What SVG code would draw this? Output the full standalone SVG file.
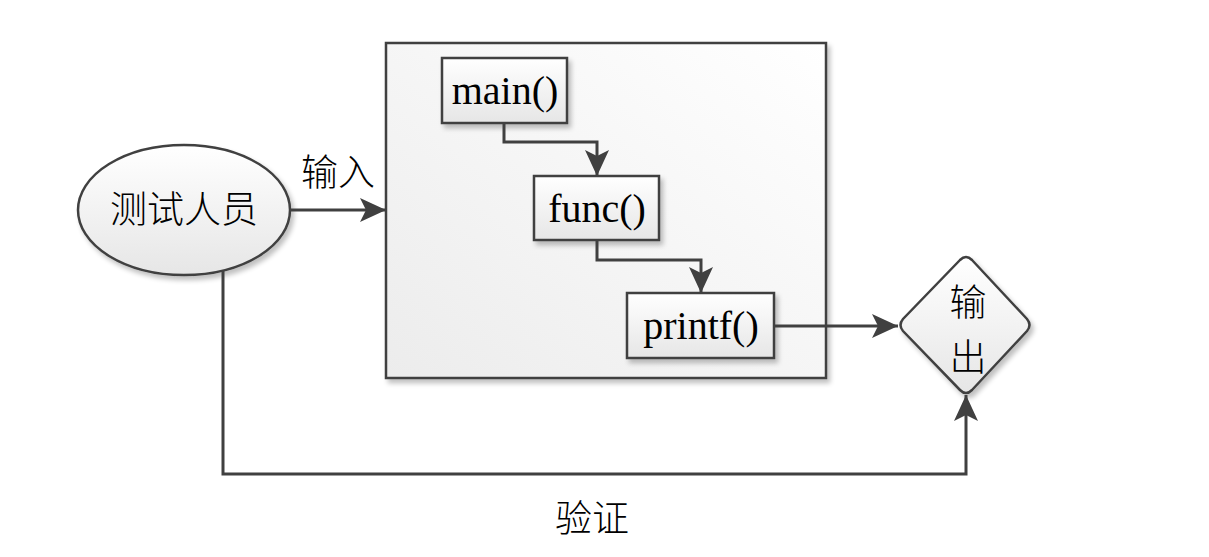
<svg xmlns="http://www.w3.org/2000/svg" width="1209" height="557" viewBox="0 0 1209 557">
<defs>
<linearGradient id="g" x1="0" y1="0" x2="0" y2="1">
<stop offset="0" stop-color="#ffffff"/>
<stop offset="1" stop-color="#e6e6e6"/>
</linearGradient>
<linearGradient id="gb" x1="1" y1="0" x2="0" y2="1">
<stop offset="0" stop-color="#ffffff"/>
<stop offset="1" stop-color="#ececec"/>
</linearGradient>
<filter id="sh" x="-10%" y="-10%" width="130%" height="130%">
<feGaussianBlur in="SourceAlpha" stdDeviation="2.5"/>
<feOffset dx="3" dy="4" result="b"/>
<feComponentTransfer><feFuncA type="linear" slope="0.25"/></feComponentTransfer>
<feMerge><feMergeNode/><feMergeNode in="SourceGraphic"/></feMerge>
</filter>
<marker id="ah" viewBox="0 0 26 24" refX="26" refY="12" markerWidth="26" markerHeight="24" markerUnits="userSpaceOnUse" orient="auto">
<path d="M0,0 L26,12 L0,24 L6,12 Z" fill="#404040"/>
</marker>
</defs>
<style>
.n{stroke:#404040;stroke-width:2.5;filter:url(#sh)}
.c{fill:none;stroke:#404040;stroke-width:3;marker-end:url(#ah)}
.t{font-family:"Liberation Serif",serif;font-size:40px;fill:#000;text-anchor:middle}
.z{font-family:"Noto Sans CJK SC",sans-serif;font-size:37px;font-weight:300;fill:#000;text-anchor:middle}
</style>
<rect width="1209" height="557" fill="#ffffff"/>
<g id="container"><rect class="n" x="386" y="43" width="440" height="335" fill="url(#gb)"/></g>
<g id="tester"><ellipse class="n" cx="184" cy="210" rx="106" ry="65" fill="url(#g)"/><text class="z" x="184" y="223">测试人员</text></g>
<g id="main"><rect class="n" x="442" y="58" width="125" height="65" fill="url(#g)"/><text class="t" x="505" y="104">main()</text></g>
<g id="func"><rect class="n" x="534" y="176" width="125" height="64" fill="url(#g)"/><text class="t" x="597" y="222">func()</text></g>
<g id="printf"><rect class="n" x="627" y="293" width="147" height="65" fill="url(#g)"/><text class="t" x="701" y="339">printf()</text></g>
<g id="output"><path class="n" d="M960,260 Q966,254 972,260 L1027,319 Q1032,325 1027,331 L972,390 Q966,396 960,390 L903,331 Q898,325 903,319 Z" fill="url(#g)"/><text class="z" x="968" y="316">输</text><text class="z" x="968" y="371">出</text></g>
<g id="connectors">
<path class="c" d="M290,210 L386,210"/>
<path class="c" d="M504,123 L504,142 L597,142 L597,176"/>
<path class="c" d="M597,240 L597,260 L701,260 L701,293"/>
<path class="c" d="M774,326 L898,326"/>
<path class="c" d="M223,270 L223,474 L966,474 L966,395"/>
</g>
<g id="labels">
<text class="z" x="338" y="186">输入</text>
<text class="z" x="592" y="532">验证</text>
</g>
</svg>
